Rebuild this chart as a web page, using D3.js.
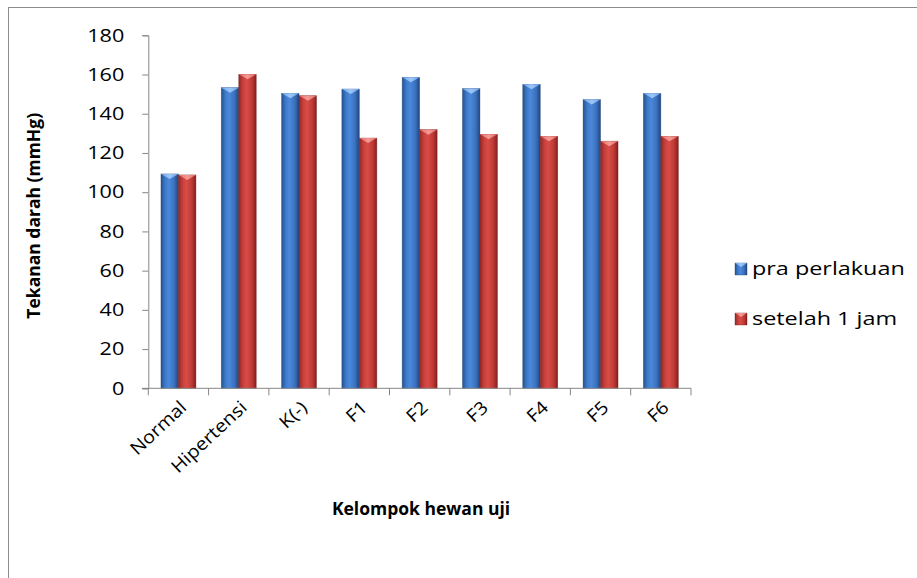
<!DOCTYPE html>
<html>
<head>
<meta charset="utf-8">
<script src="https://cdn.jsdelivr.net/npm/d3@7/dist/d3.min.js"></script>
<style>
  html, body { margin: 0; padding: 0; background: #fff; }
  svg { display: block; }
  text { font-family: "Open Sans", Lato, sans-serif; fill: #000; }
</style>
</head>
<body>
<svg id="chart" width="917" height="578"></svg>
<script>
// Tekanan darah per kelompok hewan uji
const categories = ["Normal", "Hipertensi", "K(-)", "F1", "F2", "F3", "F4", "F5", "F6"];
const seriesNames = ["pra perlakuan", "setelah 1 jam"];
const praPerlakuan = [109.3, 153.3, 150.4, 152.6, 158.6, 152.8, 155.0, 147.2, 150.4];
const setelah1Jam  = [108.8, 160.1, 149.2, 127.6, 131.9, 129.5, 128.5, 126.0, 128.5];
const yTicks = [0, 20, 40, 60, 80, 100, 120, 140, 160, 180];

const svg = d3.select("#chart");
const W = 917, H = 578;
const plot = { left: 148.3, right: 691, top: 35.3, bottom: 388.3 };
const FS = 18;        // label font size

// outer chart frame
svg.append("rect")
  .attr("x", 8.5).attr("y", 7.5)
  .attr("width", W + 10).attr("height", H + 10)
  .attr("fill", "none").attr("stroke", "#8c8c8c").attr("stroke-width", 1);

// gradients for the bevelled bars
const defs = svg.append("defs");
const palettes = [
  { id: "blue", stops: ["#24528f", "#3f7bcc", "#4b88da", "#3b72c0", "#1f4780"], cap: ["#6fa3e6", "#9cc6f7", "#6fa3e6"], edge: "#1e3f70" },
  { id: "red",  stops: ["#952826", "#c9403c", "#d84c47", "#c13a36", "#85201e"], cap: ["#e36a65", "#f49a95", "#e36a65"], edge: "#6e1b19" }
];
palettes.forEach(p => {
  const g = defs.append("linearGradient").attr("id", "body-" + p.id)
    .attr("x1", "0%").attr("x2", "100%").attr("y1", "0%").attr("y2", "0%");
  [0, 0.25, 0.45, 0.75, 1].forEach((o, i) => g.append("stop").attr("offset", o).attr("stop-color", p.stops[i]));
  const c = defs.append("linearGradient").attr("id", "cap-" + p.id)
    .attr("x1", "0%").attr("x2", "100%").attr("y1", "0%").attr("y2", "0%");
  [0, 0.5, 1].forEach((o, i) => c.append("stop").attr("offset", o).attr("stop-color", p.cap[i]));
});

const x = d3.scaleBand().domain(categories)
  .range([plot.left, plot.right]).paddingInner(0.42).paddingOuter(0.21);
const xs = d3.scaleBand().domain(seriesNames).range([0, x.bandwidth()]);
const y = d3.scaleLinear().domain([0, 180]).range([plot.bottom, plot.top]);

const axisColor = "#868686";

// y axis
const yAxis = svg.append("g").attr("transform", `translate(${plot.left},0)`)
  .call(d3.axisLeft(y).tickValues(yTicks).tickSize(6).tickFormat(d3.format("d")));
yAxis.select(".domain").attr("stroke", axisColor);
yAxis.selectAll(".tick line").attr("stroke", axisColor);
yAxis.selectAll(".tick text")
  .attr("x", 0).attr("fill", "#000")
  .attr("transform", "translate(-24,0) scale(1.2,1)")
  .style("font-size", FS + "px");

// bars
const data = categories.map((c, i) => ({ c, vals: [praPerlakuan[i], setelah1Jam[i]] }));
const groups = svg.append("g").selectAll("g").data(data).join("g")
  .attr("transform", d => `translate(${x(d.c)},0)`);

groups.each(function (d) {
  const g = d3.select(this);
  d.vals.forEach((v, si) => {
    const p = palettes[si];
    const bx = xs(seriesNames[si]);
    const bw = xs.bandwidth();
    const top = y(v);
    const bot = y(0);
    const cap = 5;
    g.append("rect")
      .attr("x", bx).attr("y", top)
      .attr("width", bw).attr("height", bot - top)
      .attr("fill", `url(#body-${p.id})`)
      .attr("stroke", p.edge).attr("stroke-width", 0.6).attr("stroke-opacity", 0.6);
    g.append("path")
      .attr("d", `M${bx},${top}L${bx + bw},${top}L${bx + bw / 2},${top + cap}Z`)
      .attr("fill", `url(#cap-${p.id})`);
  });
});

// x axis
const xAxisG = svg.append("g").attr("transform", `translate(0,${plot.bottom})`);
xAxisG.append("line")
  .attr("x1", plot.left - 6).attr("x2", plot.right)
  .attr("stroke", axisColor);
const step = x.step();
d3.range(categories.length + 1).forEach(i => {
  const tx = plot.left + i * step;
  xAxisG.append("line").attr("x1", tx).attr("x2", tx).attr("y1", 0).attr("y2", 7).attr("stroke", axisColor);
});
xAxisG.selectAll("text.cat").data(categories).join("text")
  .attr("class", "cat")
  .attr("text-anchor", "end")
  .attr("transform", d => `translate(${x(d) + x.bandwidth() / 2 + 5},${16}) rotate(-43) scale(1.1,1)`)
  .attr("dy", "0.35em")
  .style("font-size", FS + "px")
  .text(d => d);

// axis titles
svg.append("text")
  .attr("transform", `translate(40,${(plot.top + plot.bottom) / 2 + 4}) rotate(-90)`)
  .attr("text-anchor", "middle")
  .style("font-size", "17.5px").style("font-weight", "bold")
  .text("Tekanan darah (mmHg)");
svg.append("text")
  .attr("transform", "translate(421,515)")
  .attr("text-anchor", "middle")
  .style("font-size", "17.5px").style("font-weight", "bold")
  .text("Kelompok hewan uji");

// legend
const legend = svg.append("g").attr("transform", "translate(735,263)");
seriesNames.forEach((name, i) => {
  const p = palettes[i];
  const lg = legend.append("g").attr("transform", `translate(0,${i * 50})`);
  lg.append("rect").attr("width", 12).attr("height", 12)
    .attr("fill", `url(#body-${p.id})`)
    .attr("stroke", p.edge).attr("stroke-width", 0.6).attr("stroke-opacity", 0.6);
  lg.append("path").attr("d", "M0,0L12,0L6,4Z").attr("fill", `url(#cap-${p.id})`);
  lg.append("text").attr("transform", "translate(17,6) scale(1.3,1)").attr("dy", "0.35em")
    .style("font-size", FS + "px").text(name);
});
</script>
</body>
</html>
